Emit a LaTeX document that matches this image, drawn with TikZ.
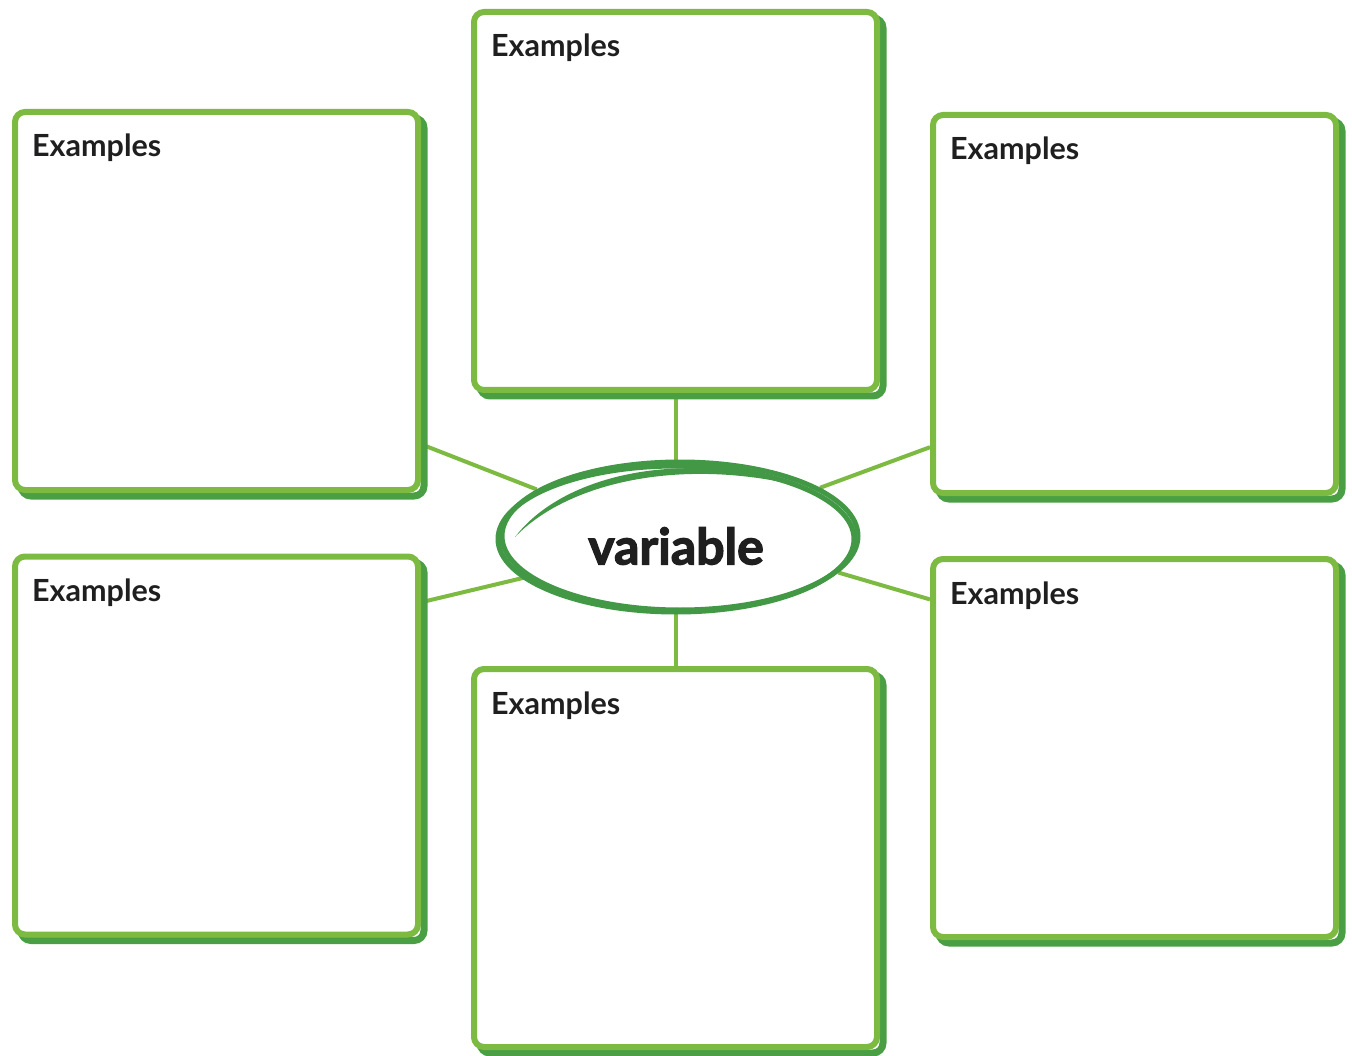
\documentclass[tikz,border=0pt]{standalone}
\usepackage{fontspec}
\setmainfont{Lato}
\newfontfamily\heavyfont{Lato}[BoldFeatures={FakeBold=2.5}]
\usetikzlibrary{shapes.geometric,calc,backgrounds}
\definecolor{boxlight}{RGB}{124,186,66}
\definecolor{boxdark}{RGB}{74,158,68}
\definecolor{ringgreen}{RGB}{67,152,70}
\tikzset{
  exbox/.style={draw=boxlight,line width=6pt,fill=white,rounded corners=10pt,
    minimum width=403pt,minimum height=378pt,inner sep=0pt,
    preaction={draw=boxdark,line width=7pt,
      transform canvas={shift={(6pt,-6pt)}}}},
  exlabel/.style={anchor=base west,inner sep=0pt,
    font=\fontsize{30.5}{34}\selectfont\bfseries,text=black!88},
  link/.style={draw=boxlight,line width=4pt},
  ring/.style={ellipse,draw=ringgreen,line width=5pt,fill=white,
    minimum width=356pt,minimum height=148pt,inner sep=0pt},
  bigword/.style={font=\fontsize{50}{56}\heavyfont\bfseries,text=black!88}
}
\begin{document}
\begin{tikzpicture}[x=1pt,y=-1pt]
  \useasboundingbox (0,0) rectangle (1352,1056);
  % boxes
  \node[exbox] (tl) at (216.5,301) {};
  \node[exbox] (tc) at (675.5,201) {};
  \node[exbox] (tr) at (1134.5,304) {};
  \node[exbox] (bl) at (216.5,745.5) {};
  \node[exbox] (bc) at (675.5,858) {};
  \node[exbox] (br) at (1134.5,748) {};
  \foreach \b in {tl,tc,tr,bl,bc,br}
    \node[exlabel] (\b-label) at ($(\b.north west)+(20,48)$) {Examples};
  % centre word
  \node[ring] (var) at (680,536) {};
  \draw[ringgreen,line width=5pt]
    ($(var.center)+(-4,3)$) ellipse [x radius=178, y radius=73];
  \fill[ringgreen]
    ($(var.center)+(-165,1)$) .. controls ($(var.center)+(-110,-56)$)
    and ($(var.center)+(10,-81)$) .. ($(var.center)+(135,-46)$)
    .. controls ($(var.center)+(10,-90)$)
    and ($(var.center)+(-115,-64)$) .. cycle;
  \node[bigword] (var-text) at (676,546) {variable};
  % connectors
  \begin{scope}[on background layer]
    \draw[link] (tc.south) -- (tc.south |- var.center);
    \draw[link] (bc.north) -- (bc.north |- var.center);
    \draw[link] (tl.-35.6) -- (var.162);
    \draw[link] (tr.-145.8) -- (var.19);
    \draw[link] (bl.35.1) -- (var.195);
    \draw[link] (br.144.7) -- (var.-13);
  \end{scope}
\end{tikzpicture}
\end{document}
